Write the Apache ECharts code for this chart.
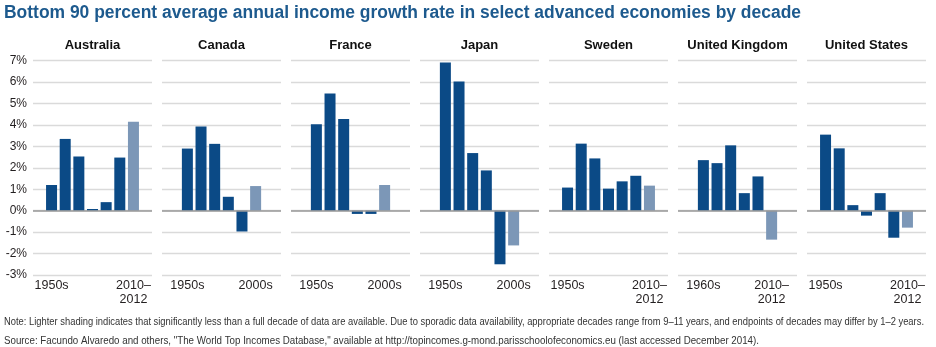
<!DOCTYPE html>
<html>
<head>
<meta charset="utf-8">
<script src="https://cdn.jsdelivr.net/npm/echarts@6/dist/echarts.min.js"></script>
<style>
html,body{margin:0;padding:0;background:#fff;}
#chart{width:936px;height:347px;}
</style>
</head>
<body>
<div id="chart"></div>
<script>
// ---------- data ----------
const countries = ['Australia', 'Canada', 'France', 'Japan', 'Sweden', 'United Kingdom', 'United States'];

const australiaDecades = ['1950s', '1960s', '1970s', '1980s', '1990s', '2000s', '2010–2012'];
const australiaValues  = [1.2, 3.35, 2.53, 0.08, 0.4, 2.48, 4.15];
const australiaPartial = [false, false, false, false, false, false, true];

const canadaDecades = ['1950s', '1960s', '1970s', '1980s', '1990s', '2000s'];
const canadaValues  = [2.9, 3.93, 3.12, 0.65, -0.97, 1.15];
const canadaPartial = [false, false, false, false, false, true];

const franceDecades = ['1950s', '1960s', '1970s', '1980s', '1990s', '2000s'];
const franceValues  = [4.03, 5.47, 4.28, -0.15, -0.15, 1.2];
const francePartial = [false, false, false, false, false, true];

const japanDecades = ['1950s', '1960s', '1970s', '1980s', '1990s', '2000s'];
const japanValues  = [6.92, 6.03, 2.69, 1.88, -2.5, -1.62];
const japanPartial = [false, false, false, false, false, true];

const swedenDecades = ['1950s', '1960s', '1970s', '1980s', '1990s', '2000s', '2010–2012'];
const swedenValues  = [1.08, 3.13, 2.44, 1.03, 1.37, 1.63, 1.17];
const swedenPartial = [false, false, false, false, false, false, true];

const ukDecades = ['1960s', '1970s', '1980s', '1990s', '2000s', '2010–2012'];
const ukValues  = [2.36, 2.22, 3.05, 0.82, 1.6, -1.35];
const ukPartial = [false, false, false, false, false, true];

const usDecades = ['1950s', '1960s', '1970s', '1980s', '1990s', '2000s', '2010–2012'];
const usValues  = [3.55, 2.91, 0.26, -0.23, 0.82, -1.26, -0.79];
const usPartial = [false, false, false, false, false, false, true];

const yTickValues = [-3, -2, -1, 0, 1, 2, 3, 4, 5, 6, 7];

const titleText = 'Bottom 90 percent average annual income growth rate in select advanced economies by decade';
const noteText = 'Note: Lighter shading indicates that significantly less than a full decade of data are available. Due to sporadic data availability, appropriate decades range from 9–11 years, and endpoints of decades may differ by 1–2 years.';
const sourceText = 'Source: Facundo Alvaredo and others, "The World Top Incomes Database," available at http://topincomes.g-mond.parisschoolofeconomics.eu (last accessed December 2014).';

// ---------- layout / style ----------
const panels = [
  {decades: australiaDecades, values: australiaValues, partial: australiaPartial},
  {decades: canadaDecades, values: canadaValues, partial: canadaPartial},
  {decades: franceDecades, values: franceValues, partial: francePartial},
  {decades: japanDecades, values: japanValues, partial: japanPartial},
  {decades: swedenDecades, values: swedenValues, partial: swedenPartial},
  {decades: ukDecades, values: ukValues, partial: ukPartial},
  {decades: usDecades, values: usValues, partial: usPartial}
];
const PANEL_LEFT = 33, PANEL_STEP = 129, PANEL_W = 119;
const GRID_TOP = 60.7, GRID_BOTTOM_Y = 275;
const BAR_STEP = 13.65, BAR_W = 11;
const DARK = '#0b4a86', LIGHT = '#7c97b7';
const TEXT = '#231f20';
const FONT = '"Liberation Sans", Arial, sans-serif';

const mctx = document.createElement('canvas').getContext('2d');
function fitScale(text, font, target) {
  mctx.font = font;
  return target / mctx.measureText(text).width;
}

const grids = [], xAxes = [], yAxes = [], series = [], graphics = [];
panels.forEach((p, i) => {
  const n = p.values.length;
  const half = PANEL_W / BAR_STEP / 2;
  const mid = (n - 1) / 2;
  grids.push({left: PANEL_LEFT + PANEL_STEP * i, width: PANEL_W, top: GRID_TOP, height: GRID_BOTTOM_Y - GRID_TOP});
  xAxes.push({
    type: 'value', gridIndex: i, min: mid - half, max: mid + half,
    axisLine: {show: false}, axisTick: {show: false}, splitLine: {show: false},
    axisLabel: {
      customValues: [0, n - 1],
      formatter: v => {
        const lbl = p.decades[Math.round(v)];
        return lbl.replace('–', '–\n');
      },
      color: TEXT, fontFamily: FONT, fontSize: 12.5, lineHeight: 14, margin: 4,
      showMinLabel: true, showMaxLabel: true
    }
  });
  yAxes.push({
    type: 'value', gridIndex: i, min: -3, max: 7, interval: 1,
    axisLine: {show: false}, axisTick: {show: false},
    splitLine: {show: true, lineStyle: {color: '#dadada', width: 1.3}},
    axisLabel: {show: i === 0, formatter: v => yTickValues.includes(v) ? v + '%' : '',
      color: TEXT, fontFamily: FONT, fontSize: 12, margin: 6}
  });
  series.push({
    type: 'bar', xAxisIndex: i, yAxisIndex: i, barWidth: BAR_W,
    data: p.values.map((v, k) => ({value: [k, v], itemStyle: {color: p.partial[k] ? LIGHT : DARK}})),
    markLine: {
      silent: true, symbol: 'none', label: {show: false},
      lineStyle: {color: '#999999', width: 1.5, type: 'solid'},
      data: [{yAxis: 0}], animation: false
    },
    animation: false
  });
  const pf = 'bold 13px ' + FONT;
  graphics.push({
    type: 'text', x: PANEL_LEFT + PANEL_STEP * i + PANEL_W / 2, y: 45,
    style: {text: countries[i], font: pf, fill: '#111', textAlign: 'center', textVerticalAlign: 'middle'}
  });
});

const titleFont = 'bold 18px ' + FONT;
graphics.push({
  type: 'text', x: 4, y: 13.5, scaleX: fitScale(titleText, titleFont, 797),
  style: {text: titleText, font: titleFont, fill: '#1d5a8e', textAlign: 'left', textVerticalAlign: 'middle'}
});
const noteFont = '10px ' + FONT;
graphics.push({
  type: 'text', x: 4, y: 322, scaleX: fitScale(noteText, noteFont, 920),
  style: {text: noteText, font: noteFont, fill: '#333', textAlign: 'left', textVerticalAlign: 'middle'}
});
graphics.push({
  type: 'text', x: 4, y: 341.5, scaleX: fitScale(sourceText, noteFont, 755),
  style: {text: sourceText, font: noteFont, fill: '#333', textAlign: 'left', textVerticalAlign: 'middle'}
});

const chart = echarts.init(document.getElementById('chart'), null, {renderer: 'canvas'});
chart.setOption({
  backgroundColor: '#fff',
  animation: false,
  grid: grids, xAxis: xAxes, yAxis: yAxes, series: series,
  graphic: graphics
});
</script>
</body>
</html>
